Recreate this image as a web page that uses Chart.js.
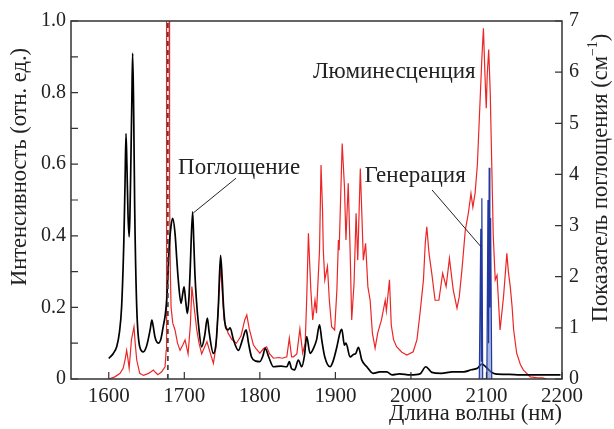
<!DOCTYPE html>
<html>
<head>
<meta charset="utf-8">
<script src="https://cdn.jsdelivr.net/npm/chart.js@4.4.0/dist/chart.umd.min.js"></script>
<style>
  body { margin: 0; background: #fff; }
</style>
</head>
<body>
<canvas id="chart" width="614" height="429"></canvas>
<script>
// tick labels
const xTicks = [1600, 1700, 1800, 1900, 2000, 2100, 2200];
const leftTicks = [0, 0.2, 0.4, 0.6, 0.8, 1.0];
const leftMinorTicks = [0.1, 0.3, 0.5, 0.7, 0.9];
const rightTicks = [0, 1, 2, 3, 4, 5, 6, 7];

// luminescence (left axis, rel. units)
const lumWl = [1600, 1608, 1615, 1619, 1621.5, 1623.7, 1625.5, 1627, 1630, 1633.4, 1635, 1637, 1641, 1646, 1652, 1656, 1659, 1662, 1665, 1670,
  1674.5, 1676, 1676.5, 1679.9, 1680.5, 1681.5, 1682.5, 1684.7, 1687.7, 1691, 1694.4, 1698, 1701, 1705, 1708, 1710, 1712, 1716.5, 1719.5, 1723,
  1727, 1730, 1734, 1738.5, 1742, 1745, 1748, 1750, 1752.6, 1758, 1763, 1769, 1775, 1780, 1782.7, 1786, 1791.5, 1795, 1800, 1805,
  1809, 1813, 1818, 1825, 1830, 1835.7, 1839, 1842, 1844.5, 1849, 1853, 1856.7, 1860, 1862, 1864.3, 1867.5, 1870, 1873, 1875, 1879,
  1881, 1883, 1884, 1886, 1889.5, 1892, 1895, 1899, 1902, 1904, 1905, 1909, 1912, 1914, 1917, 1919.5, 1921.6, 1924.7, 1927.4, 1929.6,
  1933, 1935, 1937, 1940, 1943, 1946, 1949, 1952.6, 1956, 1961, 1966, 1967.5, 1971.6, 1974, 1977, 1981, 1988, 1994.6, 2003, 2008,
  2012, 2016.6, 2019, 2021, 2024, 2027.6, 2032, 2037, 2042, 2046.6, 2051, 2056, 2061, 2064, 2067.5, 2072, 2076, 2079.5, 2082, 2085,
  2088, 2091, 2094, 2096, 2098, 2099.7, 2101, 2103, 2105, 2107, 2109, 2111.6, 2114, 2118, 2122.6, 2127, 2129, 2131.5, 2134, 2136,
  2140, 2145, 2149, 2158, 2166, 2174, 2180];
const lumI = [0, 0.006, 0.016, 0.03, 0.053, 0.08, 0.055, 0.03, 0.109, 0.146, 0.1, 0.053, 0.016, 0.01, 0.015, 0.02, 0.025, 0.018, 0.012, 0.02,
  0.034, 0.08, 1.1, 1.1, 0.51, 0.3, 0.2, 0.156, 0.137, 0.1, 0.08, 0.095, 0.109, 0.07, 0.15, 0.258, 0.22, 0.137, 0.1, 0.07,
  0.09, 0.104, 0.075, 0.044, 0.09, 0.2, 0.323, 0.25, 0.165, 0.128, 0.11, 0.10, 0.12, 0.165, 0.179, 0.14, 0.095, 0.085, 0.072, 0.085,
  0.09, 0.07, 0.058, 0.06, 0.058, 0.062, 0.114, 0.062, 0.062, 0.07, 0.14, 0.072, 0.10, 0.22, 0.407, 0.249, 0.165, 0.22, 0.184, 0.36,
  0.598, 0.472, 0.36, 0.277, 0.314, 0.22, 0.146, 0.137, 0.249, 0.388, 0.36, 0.658, 0.537, 0.388, 0.547, 0.36, 0.165, 0.267, 0.463, 0.332,
  0.588, 0.463, 0.332, 0.379, 0.258, 0.22, 0.128, 0.086, 0.128, 0.165, 0.22, 0.19, 0.277, 0.15, 0.11, 0.09, 0.075, 0.067, 0.076, 0.11,
  0.183, 0.277, 0.38, 0.425, 0.35, 0.295, 0.22, 0.22, 0.295, 0.258, 0.337, 0.249, 0.198, 0.23, 0.304, 0.416, 0.463, 0.518, 0.48, 0.52,
  0.6, 0.75, 0.9, 0.98, 0.85, 0.756, 0.85, 0.92, 0.8, 0.6, 0.4, 0.277, 0.29, 0.137, 0.23, 0.351, 0.3, 0.258, 0.2, 0.137,
  0.072, 0.04, 0.025, 0.006, 0.004, 0.003, 0];

// absorption (right axis, cm^-1)
const absWl = [1600, 1606, 1610.5, 1614, 1617, 1620, 1621.5, 1622.8, 1624, 1625.5, 1627, 1628, 1629, 1630.5, 1631.6, 1633, 1634.3, 1637, 1641, 1645.8,
  1650, 1652, 1655, 1657, 1659, 1661, 1665.6, 1669, 1672, 1675, 1677, 1680, 1682.5, 1684.7, 1687.7, 1690, 1692, 1695.7, 1698, 1699.7,
  1702, 1704, 1706, 1707.6, 1711, 1712.5, 1714, 1716, 1718.6, 1723, 1727, 1730.5, 1733, 1738.5, 1742, 1745, 1748, 1750, 1752, 1755,
  1758, 1760.6, 1765, 1771.6, 1777, 1781.8, 1785, 1789, 1795, 1800, 1804, 1807, 1812, 1818, 1828, 1835.7, 1839, 1842, 1846, 1851,
  1855.5, 1859, 1862, 1866.5, 1871, 1875, 1879, 1882, 1886, 1893, 1897, 1902, 1906, 1908.5, 1912, 1914, 1919.5, 1924, 1927, 1930.5,
  1935, 1941.6, 1950, 1959, 1968, 1975, 1985, 1999, 2012, 2019.7, 2027.6, 2040, 2055, 2070, 2080, 2088, 2094, 2101, 2106, 2111.6,
  2130, 2145, 2170, 2198];
const absK = [0.40, 0.50, 0.63, 0.90, 1.41, 2.72, 3.8, 4.80, 4.2, 3.2, 2.78, 3.2, 4.02, 5.4, 6.37, 5.2, 3.37, 1.41, 0.63, 0.53,
  0.64, 0.76, 0.98, 1.15, 1.02, 0.83, 0.70, 0.78, 1.02, 1.28, 1.61, 2.59, 3.0, 3.14, 2.85, 2.35, 1.94, 1.48, 1.68, 1.80,
  1.5, 1.28, 1.55, 2.07, 3.27, 2.7, 2.07, 1.55, 1.09, 0.63, 0.85, 1.19, 0.9, 0.50, 0.7, 1.4, 2.42, 2.0, 1.4, 1.0,
  0.96, 1.0, 0.77, 0.56, 0.77, 0.96, 0.7, 0.43, 0.35, 0.34, 0.45, 0.6, 0.42, 0.24, 0.25, 0.24, 0.34, 0.2, 0.18, 0.37,
  0.24, 0.45, 0.83, 0.50, 0.60, 0.76, 1.06, 0.76, 0.43, 0.24, 0.35, 0.63, 0.90, 0.97, 0.66, 0.70, 0.43, 0.48, 0.50, 0.62,
  0.37, 0.24, 0.11, 0.14, 0.14, 0.08, 0.10, 0.08, 0.10, 0.24, 0.13, 0.11, 0.14, 0.14, 0.18, 0.21, 0.29, 0.21, 0.14, 0.10,
  0.09, 0.08, 0.08, 0.08];

// generation lines (left axis)
const genWl = [2090.5, 2092.5, 2093.2, 2093.9, 2095, 2100.5, 2102, 2102.8, 2103.6, 2104.5, 2105.5, 2107];
const genI = [0, 0.42, 0.05, 0.505, 0, 0, 0.5, 0.1, 0.59, 0.2, 0.45, 0];

// pump wavelength (dashed line)
const pumpWl = 1678.2;

const serif = "'Liberation Serif', 'DejaVu Serif', serif";
const pts = (xs, ys) => xs.map((x, i) => ({ x: x, y: ys[i] }));

const decorations = {
  id: 'decorations',
  afterDraw(chart) {
    const ctx = chart.ctx;
    const a = chart.chartArea;
    const sx = chart.scales.x, sy = chart.scales.y, sy2 = chart.scales.y2;
    ctx.save();
    ctx.strokeStyle = '#333';
    ctx.lineWidth = 1.5;
    ctx.strokeRect(a.left, a.top, a.right - a.left, a.bottom - a.top);

    // inward ticks
    ctx.lineWidth = 1.2;
    ctx.beginPath();
    xTicks.forEach(v => {
      const px = sx.getPixelForValue(v);
      ctx.moveTo(px, a.bottom); ctx.lineTo(px, a.bottom - 7);
    });
    leftTicks.concat(leftMinorTicks).forEach(v => {
      const py = sy.getPixelForValue(v);
      ctx.moveTo(a.left, py); ctx.lineTo(a.left + 7, py);
    });
    rightTicks.forEach(v => {
      const py = sy2.getPixelForValue(v);
      ctx.moveTo(a.right, py); ctx.lineTo(a.right - 7, py);
    });
    ctx.stroke();

    // pointer lines
    ctx.strokeStyle = '#222';
    ctx.lineWidth = 1;
    ctx.beginPath();
    ctx.moveTo(sx.getPixelForValue(1768.5), sy.getPixelForValue(0.561));
    ctx.lineTo(sx.getPixelForValue(1712), sy.getPixelForValue(0.464));
    ctx.moveTo(sx.getPixelForValue(2028), sy.getPixelForValue(0.528));
    ctx.lineTo(sx.getPixelForValue(2092.5), sy.getPixelForValue(0.37));
    ctx.stroke();

    // labels
    ctx.fillStyle = '#222';
    ctx.font = '23px ' + serif;
    ctx.textAlign = 'center';
    ctx.textBaseline = 'middle';
    ctx.fillText('Люминесценция', sx.getPixelForValue(1978), sy.getPixelForValue(0.858));
    ctx.fillText('Поглощение', sx.getPixelForValue(1772.5), sy.getPixelForValue(0.589));
    ctx.fillText('Генерация', sx.getPixelForValue(2005.6), sy.getPixelForValue(0.567));

    // axis titles
    ctx.font = '22.5px ' + serif;
    ctx.save();
    ctx.translate(20, 167);
    ctx.rotate(-Math.PI / 2);
    ctx.fillText('Интенсивность (отн. ед.)', 0, 0);
    ctx.restore();

    ctx.save();
    ctx.translate(601, 178);
    ctx.rotate(-Math.PI / 2);
    const main = 'Показатель поглощения (см';
    const sup = '−1';
    ctx.font = '22.5px ' + serif;
    const w1 = ctx.measureText(main).width;
    ctx.font = '14px ' + serif;
    const w2 = ctx.measureText(sup).width;
    ctx.font = '22.5px ' + serif;
    const w3 = ctx.measureText(')').width;
    const x0 = -(w1 + w2 + w3) / 2;
    ctx.textAlign = 'left';
    ctx.fillText(main, x0, 0);
    ctx.font = '14px ' + serif;
    ctx.fillText(sup, x0 + w1, -8);
    ctx.font = '22.5px ' + serif;
    ctx.fillText(')', x0 + w1 + w2, 0);
    ctx.restore();
    ctx.restore();
  }
};

new Chart(document.getElementById('chart'), {
  type: 'line',
  data: {
    datasets: [
      {
        label: 'Генерация',
        data: pts(genWl, genI),
        borderColor: 'rgb(35,55,160)',
        backgroundColor: 'rgba(95,125,205,0.55)',
        borderWidth: 1.2,
        fill: 'origin',
        yAxisID: 'y'
      },
      {
        label: 'pump',
        data: [{ x: pumpWl, y: 0 }, { x: pumpWl, y: 1 }],
        borderColor: '#444',
        borderWidth: 1.8,
        borderDash: [5, 4],
        yAxisID: 'y'
      },
      {
        label: 'Поглощение',
        data: pts(absWl, absK),
        borderColor: '#000',
        borderWidth: 1.7,
        cubicInterpolationMode: 'monotone',
        yAxisID: 'y2'
      },
      {
        label: 'Люминесценция',
        data: pts(lumWl, lumI),
        borderColor: 'rgb(236,38,38)',
        borderWidth: 1.2,
        yAxisID: 'y'
      }
    ]
  },
  options: {
    responsive: false,
    animation: false,
    devicePixelRatio: 1,
    layout: { padding: { top: 21, left: 0, right: 0, bottom: 0 } },
    elements: { point: { radius: 0 }, line: { tension: 0 } },
    plugins: { legend: { display: false }, tooltip: { enabled: false } },
    scales: {
      x: {
        type: 'linear',
        min: 1550,
        max: 2200,
        afterBuildTicks: s => { s.ticks = xTicks.map(v => ({ value: v })); },
        afterFit: s => { s.height = 50; },
        grid: { display: false, drawTicks: false },
        border: { display: false },
        ticks: { font: { family: serif, size: 21 }, color: '#222', padding: 5, maxRotation: 0, autoSkip: false,
                 callback: v => String(v) },
        title: { display: true, text: 'Длина волны (нм)', align: 'end', color: '#222',
                 font: { family: serif, size: 22.5 }, padding: { top: 0, bottom: 1 } }
      },
      y: {
        position: 'left',
        min: 0,
        max: 1,
        afterBuildTicks: s => { s.ticks = leftTicks.map(v => ({ value: v })); },
        afterFit: s => { s.width = 71; },
        grid: { display: false, drawTicks: false },
        border: { display: false },
        ticks: { font: { family: serif, size: 20 }, color: '#222', padding: 5,
                 callback: v => v === 0 ? '0' : v.toFixed(1) }
      },
      y2: {
        position: 'right',
        min: 0,
        max: 7,
        afterBuildTicks: s => { s.ticks = rightTicks.map(v => ({ value: v })); },
        afterFit: s => { s.width = 52; },
        grid: { display: false, drawTicks: false },
        border: { display: false },
        ticks: { font: { family: serif, size: 20 }, color: '#222', padding: 7 }
      }
    }
  },
  plugins: [decorations]
});
</script>
</body>
</html>
